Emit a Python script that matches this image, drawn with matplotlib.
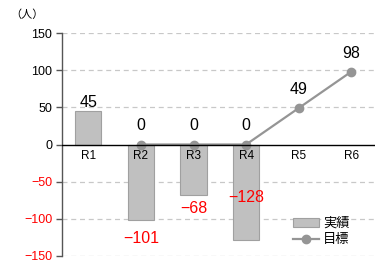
import numpy as np
import matplotlib.pyplot as plt

plt.rcParams['font.family'] = ['Liberation Sans', 'Noto Sans CJK JP', 'DejaVu Sans']

# data
categories = ["R1", "R2", "R3", "R4", "R5", "R6"]
actual = [45, -101, -68, -128, np.nan, np.nan]
target = [np.nan, 0, 0, 0, 49, 98]

x = np.arange(len(categories))

fig = plt.figure(figsize=(3.75, 2.68), dpi=100)
ax = fig.add_axes([62 / 375, 12 / 268, 313 / 375, 223 / 268])

bars = ax.bar(x, actual, width=0.5, color="#c0c0c0", edgecolor="#a0a0a0", linewidth=0.8,
              label="実績", zorder=2)
line, = ax.plot(x, target, color="#959595", linewidth=1.6, marker="o", markersize=6,
                label="目標", zorder=3)

ax.set_xlim(-0.5, 5.45)
ax.set_ylim(-150, 150)
ax.set_yticks(range(-150, 151, 50))
ax.set_yticklabels([f"{v}".replace("-", "−") for v in range(-150, 151, 50)], fontsize=9)
for lbl, v in zip(ax.get_yticklabels(), range(-150, 151, 50)):
    lbl.set_color("red" if v < 0 else "black")
ax.tick_params(axis="y", length=4, width=1, color="#555555", pad=3)

# grid
for v in range(-150, 151, 50):
    if v != 0:
        ax.axhline(v, color="#c8c8c8", linestyle=(0, (4, 3)), linewidth=0.9, zorder=0)
ax.axhline(0, color="black", linewidth=1.0, zorder=4)

for s in ["top", "right", "bottom"]:
    ax.spines[s].set_visible(False)
ax.spines["left"].set_color("#555555")
ax.spines["left"].set_linewidth(1.0)

ax.set_xticks([])
for xi, c in zip(x, categories):
    ax.annotate(c, (xi, 0), xytext=(0, -4), textcoords="offset points",
                ha="center", va="top", fontsize=8.5)

# bar labels
for xi, v in zip(x, actual):
    if np.isnan(v):
        continue
    if v >= 0:
        ax.annotate(str(v), (xi, v), xytext=(0, 1), textcoords="offset points",
                    ha="center", va="bottom", fontsize=11.5)
    else:
        off = -8 if v > -128 else 36
        if v == -68:
            off = -4
        ax.annotate(str(v).replace("-", "−"), (xi, v), xytext=(0, off),
                    textcoords="offset points", ha="center", va="top",
                    fontsize=11.5, color="red")

# target labels
for xi, v in zip(x, target):
    if np.isnan(v):
        continue
    ax.annotate(str(int(v)), (xi, v), xytext=(0, 8), textcoords="offset points",
                ha="center", va="bottom", fontsize=11.5)

fig.text(10 / 375, 1 - 15 / 268, "（人）", fontsize=8, va="center", ha="left",
         family=['Noto Sans CJK JP', 'DejaVu Sans'])

leg = ax.legend([bars, line], ["実績", "目標"], loc="lower left",
                bbox_to_anchor=(0.70, -0.01), frameon=False,
                handlelength=2.0, handletextpad=0.3, labelspacing=0.25,
                prop={'family': ['Noto Sans CJK JP', 'DejaVu Sans'], 'size': 9.5})

fig.savefig("out.png", dpi=100)
